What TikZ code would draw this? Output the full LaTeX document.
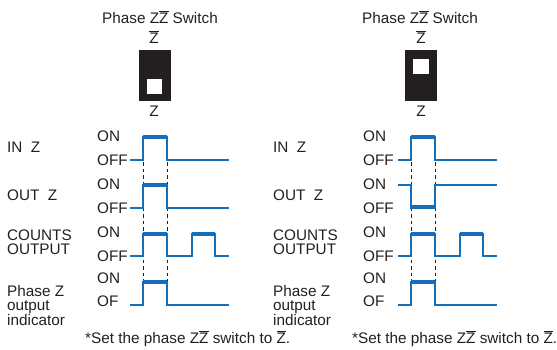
\documentclass[tikz,border=0pt]{standalone}
\usepackage{fontspec}
\setmainfont{Liberation Sans}
\definecolor{sigblue}{RGB}{20,110,185}
\definecolor{inkblack}{RGB}{35,31,32}
\newcommand{\zbar}{\ensuremath{\overline{\mbox{Z}}}}

\begin{document}
\begin{tikzpicture}[x=1pt, y=-1pt, inkblack,
    font=\fontsize{15.3}{14}\selectfont,
    lbl/.style={anchor=base west, inner sep=0pt},
    multilbl/.style={anchor=north west, inner sep=0pt, align=left},
    ctr/.style={anchor=base, inner sep=0pt},
    swbody/.style={fill=inkblack, minimum width=32pt, minimum height=51pt, inner sep=0pt},
    knob/.style={fill=white, minimum width=15.5pt, minimum height=15pt, inner sep=0pt},
    sig/.style={sigblue, line width=1.3pt},
    hi/.style={sigblue, line width=3.5pt},
    edge/.style={inkblack, line width=1pt, dash pattern=on 3.5pt off 3pt}]
    \useasboundingbox (0,0) rectangle (557,349);

    % switches
    \node[ctr] (title-L) at (160,23) {Phase Z\zbar{} Switch};
    \node[ctr] (title-R) at (420,23) {Phase Z\zbar{} Switch};
    \node[ctr] (zb-L) at (154,43) {\zbar};
    \node[ctr] (zb-R) at (421,43) {\zbar};
    \node[swbody] (sw-L) at (155,75.5) {};
    \node[swbody] (sw-R) at (421,75.5) {};
    \node[knob] (knob-L) at (154.5,86.5) {};
    \node[knob] (knob-R) at (421,66) {};
    \node[ctr] (z-L) at (154,116) {Z};
    \node[ctr] (z-R) at (421,116) {Z};

    % labels, both panels
    \foreach \p/\lx in {L/0, R/266} {
        \begin{scope}[xshift=\lx]
            \node[lbl] (inz-\p) at (7,152) {IN\ \ Z};
            \node[lbl] (outz-\p) at (7,200) {OUT\ \ Z};
            \node[multilbl] (cnt-\p) at (7,230) {COUNTS\\OUTPUT};
            \node[multilbl] (phz-\p) at (7,285) {Phase Z\\output\\indicator};
            \node[lbl] (on1-\p) at (97,141) {ON};
            \node[lbl] (off1-\p) at (97,165) {OFF};
            \node[lbl] (on2-\p) at (97,189) {ON};
            \node[lbl] (off2-\p) at (97,213) {OFF};
            \node[lbl] (on3-\p) at (97,237) {ON};
            \node[lbl] (off3-\p) at (97,261) {OFF};
            \node[lbl] (on4-\p) at (97,283) {ON};
            \node[lbl] (off4-\p) at (97,306) {OF};
        \end{scope}
    }

    % waveforms, both panels
    \foreach \dx in {0, 268} {
        \begin{scope}[xshift=\dx]
            \draw[edge] (143,162) -- (143,281) (167,162) -- (167,281);
            % IN Z
            \draw[sig] (130,160) -- (143,160) -- (143,137) -- (167,137) -- (167,160) -- (229,160);
            \draw[hi] (143,137) -- (167,137);
            % COUNTS OUTPUT
            \draw[sig] (130,256) -- (143,256) -- (143,234) -- (167,234) -- (167,256) -- (192,256)
                -- (192,234) -- (215,234) -- (215,256) -- (229,256);
            \draw[hi] (143,234) -- (167,234) (192,234) -- (215,234);
            % phase Z indicator
            \draw[sig] (130,305) -- (143,305) -- (143,282) -- (167,282) -- (167,305) -- (229,305);
            \draw[hi] (143,282) -- (167,282);
        \end{scope}
    }

    % OUT Z
    \draw[sig] (130,208) -- (143,208) -- (143,185) -- (167,185) -- (167,208) -- (229,208);
    \draw[hi] (143,185) -- (167,185);
    \draw[sig] (398,185) -- (411,185) -- (411,208) -- (435,208) -- (435,185) -- (497,185);
    \draw[hi] (411,207) -- (435,207);

    % notes
    \node[lbl] (note-L) at (85,343) {*Set the phase Z\zbar{} switch to \zbar.};
    \node[lbl] (note-R) at (352,343) {*Set the phase Z\zbar{} switch to \zbar.};
\end{tikzpicture}
\end{document}
